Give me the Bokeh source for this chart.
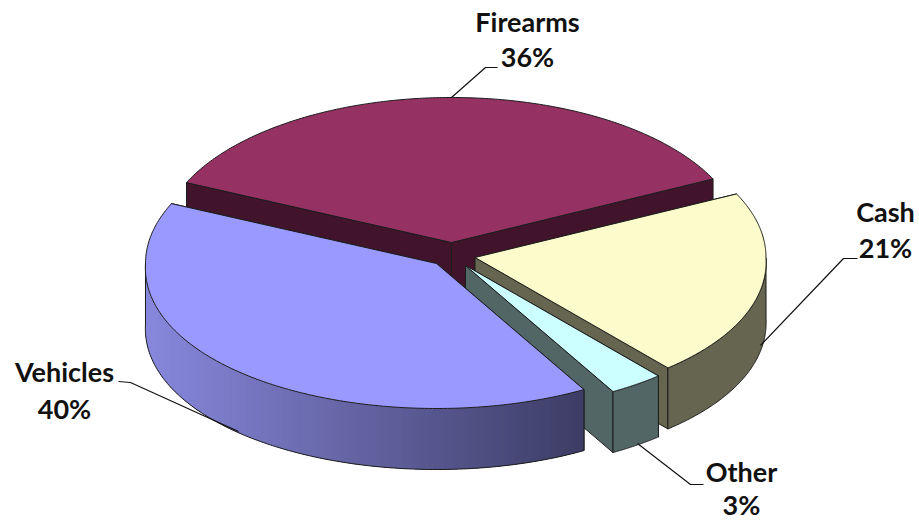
import numpy as np
from bokeh.plotting import figure
from bokeh.embed import file_html
from bokeh.resources import INLINE
from bokeh.core.properties import value

# ---- chart data ----
categories = ["Firearms", "Cash", "Other", "Vehicles"]
shares = [36, 21, 3, 40]
percent_labels = ["36%", "21%", "3%", "40%"]
top_colors = ["#953263", "#fbfbcb", "#ccffff", "#9999ff"]
wall_colors = ["#41142b", "#666650", "#526666", "#3d3d66"]

# ---- layout ----
A, B, DEPTH, FRONT_WIDEN = 291.0, 145.0, 61.0, 0.03
START_ANGLE = 155.6
APEX = {"Firearms": (451, 242), "Cash": (474.5, 257), "Other": (465, 265), "Vehicles": (436, 263)}
LABEL_POS = {"Firearms": (527, 21, 56), "Cash": (885, 211, 247), "Other": (741, 471, 504), "Vehicles": (64, 371, 408)}
LEADERS = [
    [(451, 97), (485, 67), (497, 67)],
    [(760, 345), (843, 258), (857, 258)],
    [(637, 443), (690, 484), (703, 484)],
    [(118, 381), (130, 382), (238, 431)],
]
STROKE = "#1c1c1c"
W, H = 919, 521

p = figure(width=W, height=H, x_range=(0, W), y_range=(H, 0),
           toolbar_location=None, output_backend="svg", min_border=0)
p.axis.visible = False
p.grid.visible = False
p.outline_line_color = None
p.background_fill_color = "white"
p.border_fill_color = "white"


def rim(apex, deg):
    t = np.radians(deg)
    widen = 1 + FRONT_WIDEN * np.maximum(0, -np.sin(t))
    return apex[0] + A * np.cos(t) * widen, apex[1] - B * np.sin(t)


def lerp_hex(c0, c1, f):
    a = [int(c0[i:i + 2], 16) for i in (1, 3, 5)]
    b = [int(c1[i:i + 2], 16) for i in (1, 3, 5)]
    return "#%02x%02x%02x" % tuple(int(round(u + (v - u) * f)) for u, v in zip(a, b))


total = float(sum(shares))
angle = START_ANGLE
for name, share, top, wall in zip(categories, shares, top_colors, wall_colors):
    t0, t1 = angle, angle - share / total * 360.0
    angle = t1
    apex = APEX[name]
    ts = np.linspace(t0, t1, 200)
    xs, ys = rim(apex, ts)
    # radial walls
    for end in (t0, t1):
        ex, ey = rim(apex, end)
        p.patch([apex[0], ex, ex, apex[0]], [apex[1], ey, ey + DEPTH, apex[1] + DEPTH],
                fill_color=wall, line_color=STROKE, line_width=1)
    # outer wall: only the part facing the viewer
    front = np.sin(np.radians(ts)) <= 0
    if front.any():
        fx, fy = xs[front], ys[front]
        if name == "Vehicles":
            x_lo, x_hi = fx.min(), fx.max()
            sx, sy, sc = [], [], []
            n = len(fx)
            for i in range(n - 1):
                j = min(i + 3, n - 1)  # strips overlap their neighbours so no seams show
                sx.append(list(fx[i:j + 1]) + list(fx[i:j + 1][::-1]))
                sy.append(list(fy[i:j + 1]) + list((fy[i:j + 1] + DEPTH)[::-1]))
                f = (fx[i] - x_lo) / (x_hi - x_lo)
                sc.append(lerp_hex("#8888dd", wall, f))
            p.patches(sx, sy, fill_color=sc, line_color=None)
            p.line(list(fx) + [fx[-1]], list(fy + DEPTH) + [fy[-1]], line_color=STROKE, line_width=1)
            p.line([fx[0], fx[0]], [fy[0], fy[0] + DEPTH], line_color=STROKE, line_width=1)
        else:
            p.patch(list(fx) + list(fx[::-1]), list(fy) + list(fy[::-1] + DEPTH),
                    fill_color=wall, line_color=STROKE, line_width=1)
    # top face
    p.patch([apex[0]] + list(xs), [apex[1]] + list(ys),
            fill_color=top, line_color=STROKE, line_width=1)

# leader lines
p.multi_line([[q[0] for q in l] for l in LEADERS], [[q[1] for q in l] for l in LEADERS],
             line_color="#111111", line_width=1.2)

# labels
font_kw = dict(text_font=value("Lato"), text_font_style="bold", text_font_size="27px",
               text_color="#111111", text_align="center", text_baseline="middle")
for name, pct in zip(categories, percent_labels):
    lx, y1, y2 = LABEL_POS[name]
    p.text([lx], [y1], text=[name], **font_kw)
    p.text([lx], [y2], text=[pct], **font_kw)

open("out.html", "w").write(file_html(p, INLINE))
